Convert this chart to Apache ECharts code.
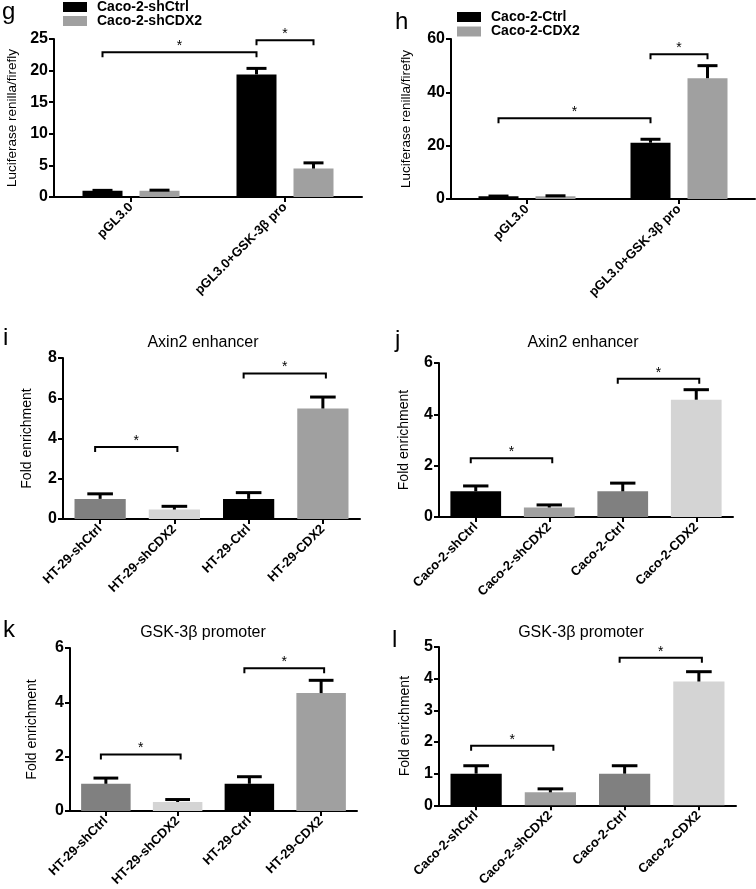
<!DOCTYPE html>
<html><head><meta charset="utf-8">
<script src="https://cdn.jsdelivr.net/npm/echarts@6/dist/echarts.min.js"></script>
<style>html,body{margin:0;padding:0;background:#fff}#c{width:756px;height:889px}</style>
</head><body><div id="c"></div>
<script>
// ---------- DATA ----------
// Panel g
const gCats = ['pGL3.0', 'pGL3.0+GSK-3β pro'];
const gNames = ['Caco-2-shCtrl', 'Caco-2-shCDX2'];
const gShCtrl = [1.0, 19.4];
const gShCtrlErr = [0.05, 0.95];
const gShCDX2 = [1.0, 4.5];
const gShCDX2Err = [0.08, 0.9];
const gBrackets = [[0, 22.9, 1, 0, 0], [1, 24.8, 1, 0, 1]]; // [fromCat, y, toCat, fromSeries, toSeries]
const gTicks = [0, 25, 5];
// Panel h
const hCats = ['pGL3.0', 'pGL3.0+GSK-3β pro'];
const hNames = ['Caco-2-Ctrl', 'Caco-2-CDX2'];
const hCtrl = [1.0, 21.1];
const hCtrlErr = [0.1, 1.3];
const hCDX2 = [1.0, 45.3];
const hCDX2Err = [0.2, 4.7];
const hBrackets = [[0, 30.3, 1, 0, 0], [1, 54.3, 1, 0, 1]];
const hTicks = [0, 60, 20];
// Panel i
const iCats = ['HT-29-shCtrl', 'HT-29-shCDX2', 'HT-29-Ctrl', 'HT-29-CDX2'];
const iVals = [1.0, 0.47, 1.0, 5.49];
const iErr = [0.25, 0.16, 0.31, 0.57];
const iBrackets = [[0, 3.58, 1], [2, 7.23, 3]];
const iTicks = [0, 8, 2];
// Panel j
const jCats = ['Caco-2-shCtrl', 'Caco-2-shCDX2', 'Caco-2-Ctrl', 'Caco-2-CDX2'];
const jVals = [1.0, 0.37, 1.0, 4.57];
const jErr = [0.21, 0.10, 0.32, 0.39];
const jBrackets = [[0, 2.29, 1], [2, 5.39, 3]];
const jTicks = [0, 6, 2];
// Panel k
const kCats = ['HT-29-shCtrl', 'HT-29-shCDX2', 'HT-29-Ctrl', 'HT-29-CDX2'];
const kVals = [1.0, 0.33, 1.0, 4.34];
const kErr = [0.21, 0.09, 0.26, 0.47];
const kBrackets = [[0, 2.08, 1], [2, 5.25, 3]];
const kTicks = [0, 6, 2];
// Panel l
const lCats = ['Caco-2-shCtrl', 'Caco-2-shCDX2', 'Caco-2-Ctrl', 'Caco-2-CDX2'];
const lVals = [1.0, 0.41, 1.0, 3.91];
const lErr = [0.25, 0.11, 0.25, 0.31];
const lBrackets = [[0, 1.88, 1], [2, 4.66, 3]];
const lTicks = [0, 5, 1];

const lucName = 'Luciferase renilla/firefly';
const foldName = 'Fold enrichment';
const axinTitle = 'Axin2 enhancer';
const gskTitle = 'GSK-3β promoter';

// ---------- STYLE ----------
const FONT = '"Liberation Sans", Arial, Helvetica, sans-serif';
const NARROW = '"Liberation Sans Narrow", "Arial Narrow", "Liberation Sans", Arial, sans-serif';
const BLACK = '#000000', GREY = '#a0a0a0', DARK = '#808080', LIGHT = '#d4d4d4';

const option = {
  animation: false, backgroundColor: '#ffffff',
  grid: [], xAxis: [], yAxis: [], series: [], legend: [], graphic: []
};

function addAxes(box, cats, ticks, yName, nameGap, nameSize) {
  const gi = option.grid.length;
  option.grid.push({ left: box[0], top: box[1], width: box[2], height: box[3], containLabel: false });
  option.xAxis.push({
    type: 'category', gridIndex: gi, data: cats,
    axisLine: { show: true, lineStyle: { color: BLACK, width: 2 } },
    axisTick: { show: true, alignWithLabel: true, length: 5, lineStyle: { color: BLACK, width: 2 } },
    axisLabel: { interval: 0, rotate: 45, color: BLACK, fontSize: 13, fontWeight: 'bold', fontFamily: FONT, margin: 8 },
    splitLine: { show: false }
  });
  option.yAxis.push({
    type: 'value', gridIndex: gi, min: ticks[0], max: ticks[1], interval: ticks[2],
    name: yName, nameLocation: 'middle', nameGap: nameGap, nameRotate: 90,
    nameTextStyle: { color: BLACK, fontSize: nameSize, fontFamily: FONT },
    axisLine: { show: true, lineStyle: { color: BLACK, width: 2 } },
    axisTick: { show: true, length: 5, lineStyle: { color: BLACK, width: 2 } },
    axisLabel: { color: BLACK, fontSize: 16, fontWeight: 'bold', fontFamily: NARROW, margin: 6 },
    splitLine: { show: false }
  });
  return gi;
}

function errorSeries(gi, vals, errs, offsetFn, capFn) {
  option.series.push({
    type: 'custom', xAxisIndex: gi, yAxisIndex: gi, z: 5,
    encode: { x: 0, y: [1, 2] },
    data: vals.map((v, k) => [k, v, v + errs[k]]),
    renderItem: function (params, api) {
      const c = api.coord([api.value(0), api.value(1)]);
      const t = api.coord([api.value(0), api.value(2)]);
      const band = api.size([1, 0])[0];
      const x = c[0] + offsetFn(band);
      const half = capFn(band) / 2;
      return { type: 'group', children: [
        { type: 'line', shape: { x1: x, y1: c[1], x2: x, y2: t[1] }, style: { stroke: BLACK, lineWidth: 3 } },
        { type: 'line', shape: { x1: x - half, y1: t[1], x2: x + half, y2: t[1] }, style: { stroke: BLACK, lineWidth: 3 } }
      ] };
    }
  });
}

function bracketSeries(gi, brackets, endOffsetFn) {
  option.series.push({
    type: 'custom', xAxisIndex: gi, yAxisIndex: gi, z: 6,
    encode: { x: 0, y: 1 },
    data: brackets,
    renderItem: function (params, api) {
      const y = api.value(1);
      const a = api.coord([api.value(0), y]);
      const b = api.coord([api.value(2), y]);
      const band = api.size([1, 0])[0];
      const xa = a[0] + endOffsetFn(band, api.value(3), 0);
      const xb = b[0] + endOffsetFn(band, api.value(4), 1);
      return { type: 'group', children: [
        { type: 'polyline', shape: { points: [[xa, a[1] + 5], [xa, a[1]], [xb, a[1]], [xb, a[1] + 5]] },
          style: { stroke: BLACK, lineWidth: 2, fill: null } },
        { type: 'text', x: (xa + xb) / 2, y: a[1] + 1,
          style: { text: '*', fill: BLACK, font: '14px ' + FONT, align: 'center', verticalAlign: 'bottom' } }
      ] };
    }
  });
}

// grouped two-series panel (g, h)
function groupedPanel(box, cats, names, v1, e1, v2, e2, brackets, ticks, nameGap, legendPos) {
  const gi = addAxes(box, cats, ticks, lucName, nameGap, 13.5);
  const BW = 40, GAP = 17, OFF = (BW + GAP) / 2;
  option.series.push({ type: 'bar', name: names[0], xAxisIndex: gi, yAxisIndex: gi, data: v1, barWidth: BW, barGap: (GAP / BW * 100) + '%', itemStyle: { color: BLACK } });
  option.series.push({ type: 'bar', name: names[1], xAxisIndex: gi, yAxisIndex: gi, data: v2, barWidth: BW, barGap: (GAP / BW * 100) + '%', itemStyle: { color: GREY } });
  errorSeries(gi, v1, e1, () => -OFF, () => BW / 2);
  errorSeries(gi, v2, e2, () => OFF, () => BW / 2);
  bracketSeries(gi, brackets, (band, s) => (s ? OFF : -OFF));
  option.legend.push({
    data: names, orient: 'vertical', left: legendPos[0], top: legendPos[1], padding: 0,
    itemWidth: 24, itemHeight: 10, itemGap: legendPos[2], icon: 'rect', selectedMode: false,
    textStyle: { color: BLACK, fontSize: 14, fontWeight: 'bold', fontFamily: FONT, lineHeight: 13, padding: [0, 0, 0, 5] }
  });
}

// four-bar panel (i, j, k, l)
function quadPanel(box, cats, vals, errs, colors, brackets, ticks, nameGap, title, titlePos) {
  const gi = addAxes(box, cats, ticks, foldName, nameGap, 14);
  const FR = 0.69;
  option.series.push({ type: 'bar', name: title + gi, xAxisIndex: gi, yAxisIndex: gi, barWidth: (FR * 100) + '%',
    data: vals.map((v, k) => ({ value: v, itemStyle: { color: colors[k] } })) });
  errorSeries(gi, vals, errs, () => 0, (band) => band * FR / 2);
  bracketSeries(gi, brackets, (band, s, end) => (end ? 3 : -5));
  option.graphic.push({ type: 'text', x: titlePos[0], y: titlePos[1],
    style: { text: title, fill: BLACK, font: '16px ' + FONT, align: 'center', verticalAlign: 'middle' } });
}

groupedPanel([54, 39, 308, 158], gCats, gNames, gShCtrl, gShCtrlErr, gShCDX2, gShCDX2Err, gBrackets, gTicks, 35, [63, 0, 0]);
groupedPanel([451, 39, 304, 160], hCats, hNames, hCtrl, hCtrlErr, hCDX2, hCDX2Err, hBrackets, hTicks, 38, [457, 10, 0.5]);
quadPanel([63, 358, 297, 161], iCats, iVals, iErr, [DARK, LIGHT, BLACK, GREY], iBrackets, iTicks, 29, axinTitle, [203, 343]);
quadPanel([439, 363, 294, 154], jCats, jVals, jErr, [BLACK, GREY, DARK, LIGHT], jBrackets, jTicks, 28, axinTitle, [583, 343]);
quadPanel([70, 648, 287, 165], kCats, kVals, kErr, [DARK, LIGHT, BLACK, GREY], kBrackets, kTicks, 31, gskTitle, [203, 633]);
quadPanel([439, 647, 297, 162], lCats, lVals, lErr, [BLACK, GREY, DARK, LIGHT], lBrackets, lTicks, 27, gskTitle, [581, 633]);

// panel letters
[['g', 2, 12], ['h', 395, 22], ['i', 3, 338], ['j', 395, 340], ['k', 3, 630], ['l', 392, 640]].forEach(function (p) {
  option.graphic.push({ type: 'text', x: p[1], y: p[2],
    style: { text: p[0], fill: BLACK, font: '24px ' + FONT, align: 'left', verticalAlign: 'middle' } });
});

const chart = echarts.init(document.getElementById('c'), null, { renderer: 'canvas' });
chart.setOption(option);
</script>
</body></html>
